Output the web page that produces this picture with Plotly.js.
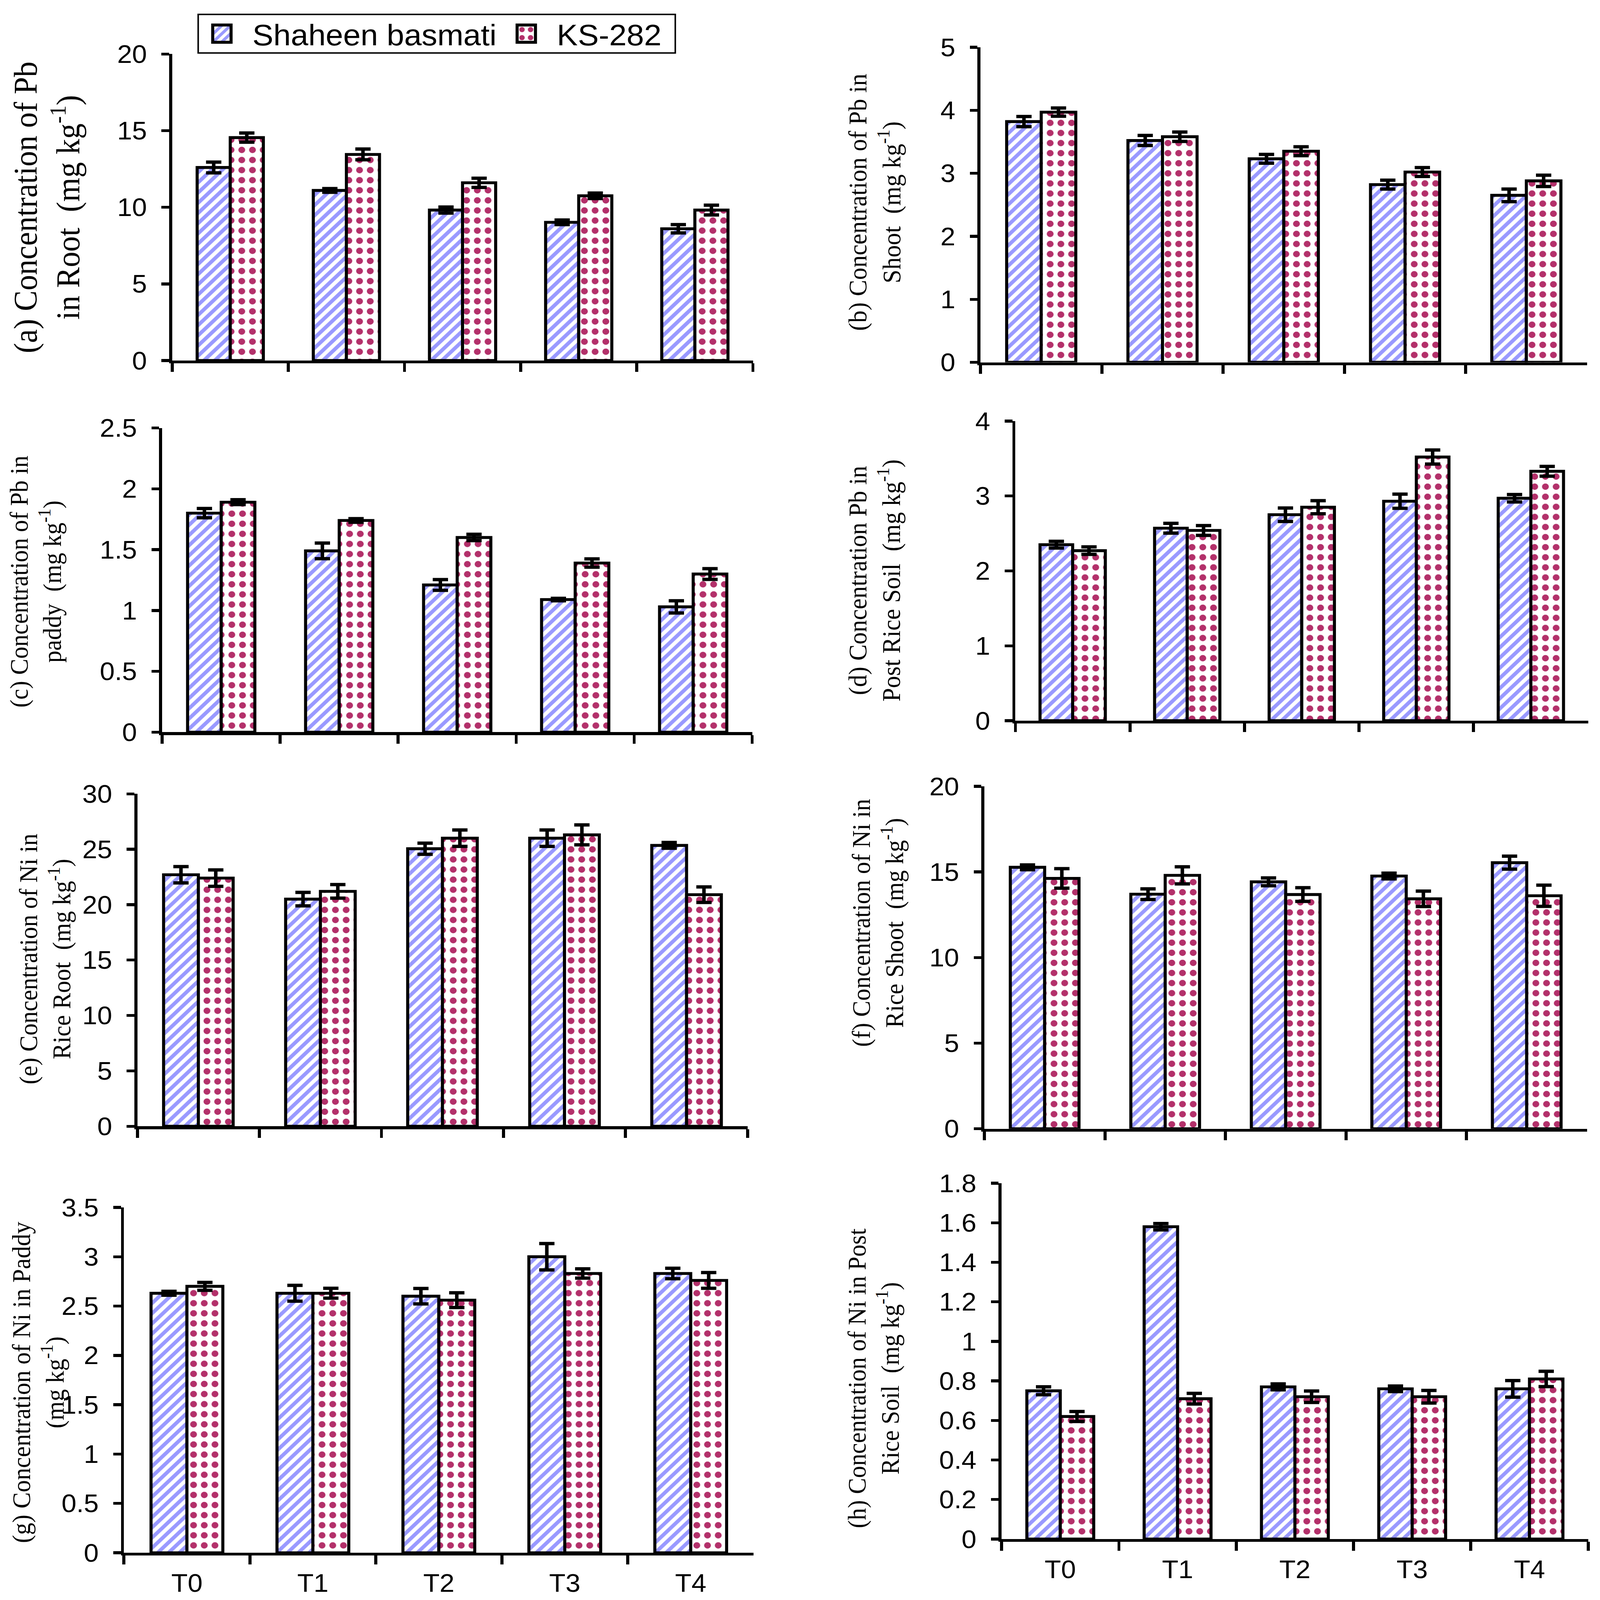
<!DOCTYPE html>
<html>
<head>
<meta charset="utf-8">
<script src="https://cdn.plot.ly/plotly-3.0.1.min.js"></script>
<style>
html,body{margin:0;padding:0;background:#fff;overflow:hidden;width:100%;height:100%;}
#plot{width:1046px;height:1110px;transform-origin:0 0;}
</style>
</head>
<body>
<div id="plot"></div>
<script>
// ---------- DATA ----------
const categories = ["T0", "T1", "T2", "T3", "T4"];
const seriesNames = ["Shaheen basmati", "KS-282"];

// (a) Pb in root
const pbRootShaheen   = [12.6, 11.1, 9.82, 9.02, 8.6];
const pbRootShaheenSE = [0.35, 0.12, 0.2, 0.15, 0.27];
const pbRootKS        = [14.55, 13.45, 11.6, 10.75, 9.82];
const pbRootKSSE      = [0.3, 0.35, 0.3, 0.18, 0.32];
// (b) Pb in shoot
const pbShootShaheen   = [3.82, 3.52, 3.23, 2.82, 2.65];
const pbShootShaheenSE = [0.08, 0.08, 0.07, 0.07, 0.1];
const pbShootKS        = [3.97, 3.58, 3.35, 3.02, 2.88];
const pbShootKSSE      = [0.065, 0.075, 0.07, 0.07, 0.09];
// (c) Pb in paddy
const pbPaddyShaheen   = [1.80, 1.49, 1.21, 1.09, 1.03];
const pbPaddyShaheenSE = [0.038, 0.064, 0.044, 0.01, 0.05];
const pbPaddyKS        = [1.89, 1.74, 1.60, 1.39, 1.30];
const pbPaddyKSSE      = [0.02, 0.015, 0.026, 0.034, 0.044];
// (d) Pb in post rice soil
const pbSoilShaheen   = [2.35, 2.57, 2.75, 2.93, 2.97];
const pbSoilShaheenSE = [0.045, 0.065, 0.09, 0.095, 0.05];
const pbSoilKS        = [2.27, 2.54, 2.85, 3.52, 3.33];
const pbSoilKSSE      = [0.05, 0.065, 0.087, 0.094, 0.065];
// (e) Ni in rice root
const niRootShaheen   = [22.7, 20.5, 25.05, 26.0, 25.35];
const niRootShaheenSE = [0.74, 0.61, 0.5, 0.74, 0.26];
const niRootKS        = [22.4, 21.2, 26.0, 26.3, 20.9];
const niRootKSSE      = [0.74, 0.61, 0.74, 0.9, 0.7];
// (f) Ni in rice shoot
const niShootShaheen   = [15.27, 13.7, 14.42, 14.76, 15.54];
const niShootShaheenSE = [0.14, 0.31, 0.23, 0.17, 0.38];
const niShootKS        = [14.62, 14.8, 13.68, 13.43, 13.61];
const niShootKSSE      = [0.57, 0.5, 0.4, 0.45, 0.62];
// (g) Ni in paddy
const niPaddyShaheen   = [2.63, 2.63, 2.60, 3.00, 2.83];
const niPaddyShaheenSE = [0.02, 0.08, 0.078, 0.134, 0.053];
const niPaddyKS        = [2.70, 2.63, 2.56, 2.83, 2.76];
const niPaddyKSSE      = [0.04, 0.05, 0.075, 0.047, 0.08];
// (h) Ni in post rice soil
const niSoilShaheen   = [0.75, 1.58, 0.77, 0.76, 0.76];
const niSoilShaheenSE = [0.02, 0.016, 0.015, 0.014, 0.042];
const niSoilKS        = [0.62, 0.71, 0.72, 0.72, 0.81];
const niSoilKSSE      = [0.025, 0.027, 0.029, 0.032, 0.039];

// y-axis ranges (max, step)
const yMax  = [20, 5, 2.5, 4, 30, 20, 3.5, 1.8];
const yStep = [5, 1, 0.5, 1, 5, 5, 0.5, 0.2];

// y-axis titles
const yTitles = [
  "(a) Concentration of Pb<br>in Root &nbsp;(mg kg<sup>-1</sup>)",
  "(b) Concentration of Pb in<br>Shoot &nbsp;(mg kg<sup>-1</sup>)",
  "(c) Concentration of Pb in<br>paddy &nbsp;(mg kg<sup>-1</sup>)",
  "(d) Concentration Pb in<br>Post Rice Soil &nbsp;(mg kg<sup>-1</sup>)",
  "(e) Concentration of Ni in<br>Rice Root &nbsp;(mg kg<sup>-1</sup>)",
  "(f) Concentration of Ni in<br>Rice Shoot &nbsp;(mg kg<sup>-1</sup>)",
  "(g) Concentration of Ni in Paddy<br>(mg kg<sup>-1</sup>)",
  "(h) Concentration of Ni in Post<br>Rice Soil &nbsp;(mg kg<sup>-1</sup>)"
];

const panelData = [
  [pbRootShaheen, pbRootShaheenSE, pbRootKS, pbRootKSSE],
  [pbShootShaheen, pbShootShaheenSE, pbShootKS, pbShootKSSE],
  [pbPaddyShaheen, pbPaddyShaheenSE, pbPaddyKS, pbPaddyKSSE],
  [pbSoilShaheen, pbSoilShaheenSE, pbSoilKS, pbSoilKSSE],
  [niRootShaheen, niRootShaheenSE, niRootKS, niRootKSSE],
  [niShootShaheen, niShootShaheenSE, niShootKS, niShootKSSE],
  [niPaddyShaheen, niPaddyShaheenSE, niPaddyKS, niPaddyKSSE],
  [niSoilShaheen, niSoilShaheenSE, niSoilKS, niSoilKSSE]
];

// ---------- LAYOUT (positions in reference pixels) ----------
const W = 1046, H = 1110;           // layout size (CSS scaled to the window)
const PW = 4182, PH = 4438;         // reference picture size
// [left, right, top, bottom] of each plot area
const boxes = [
  [450, 1968, 150, 1000],
  [2563, 4148, 131, 1005],
  [424, 1966, 1187, 2031],
  [2654, 4151, 1168, 1999],
  [359, 1954, 2202, 3124],
  [2573, 4148, 2181, 3131],
  [324, 1970, 3349, 4307],
  [2618, 4151, 3282, 4269]
];
// centers of the y titles
const titlePos = [
  [124, 576], [2285, 560], [96, 1611], [2285, 1612],
  [117, 2659], [2295, 2560], [100, 3836], [2285, 3825]
];
const titleSize = [21.5, 17, 16.75, 16.9, 16.75, 16.75, 16.9, 16.75];

const blue = "#9999FF", red = "#B3306A";
const sansFont = "Liberation Sans, Arial, sans-serif";
const serifFont = "Liberation Serif, Times New Roman, serif";

const sx = (window.innerWidth || PW) / W;
const sy = (window.innerHeight || PH) / H;
document.getElementById("plot").style.transform = "scale(" + sx + "," + sy + ")";

const traces = [];
const layout = {
  width: W, height: H, autosize: false,
  margin: {l: 0, r: 0, t: 0, b: 0, pad: 0},
  paper_bgcolor: "#fff", plot_bgcolor: "rgba(0,0,0,0)",
  barmode: "group", bargap: 0.43, bargroupgap: 0,
  showlegend: true,
  legend: {
    orientation: "h", x: 500 / PW, y: 1 - 94 / PH, xanchor: "left", yanchor: "middle",
    bgcolor: "rgba(0,0,0,0)", borderwidth: 0,
    entrywidth: 154, entrywidthmode: "pixels",
    font: {family: sansFont, size: 20.5, color: "#000"},
    traceorder: "normal"
  },
  shapes: [{
    type: "rect", xref: "paper", yref: "paper", layer: "below",
    x0: 518 / PW, x1: 1765 / PW, y0: 1 - 147 / PH, y1: 1 - 40 / PH,
    line: {color: "#000", width: 1}, fillcolor: "#fff"
  }],
  annotations: [],
  font: {family: sansFont, color: "#000"}
};

boxes.forEach((b, i) => {
  const n = i + 1;
  const xa = "x" + (n === 1 ? "" : n), ya = "y" + (n === 1 ? "" : n);
  const xk = "xaxis" + (n === 1 ? "" : n), yk = "yaxis" + (n === 1 ? "" : n);
  const d = panelData[i];
  const common = {
    x: categories, type: "bar", xaxis: xa, yaxis: ya,
    cliponaxis: false
  };
  traces.push(Object.assign({}, common, {
    name: seriesNames[0], y: d[0], legendgroup: "s", showlegend: i === 0,
    marker: {color: blue, line: {color: "#000", width: 2},
      pattern: {shape: "/", fgcolor: blue, bgcolor: "#fff", size: 5, solidity: 0.5, fillmode: "replace"}},
    error_y: {type: "data", array: d[1], visible: true, color: "#000", thickness: 2.3, width: 5}
  }));
  traces.push(Object.assign({}, common, {
    name: seriesNames[1], y: d[2], legendgroup: "k", showlegend: i === 0,
    marker: {color: red, line: {color: "#000", width: 2},
      pattern: {shape: ".", fgcolor: red, bgcolor: "#fff", size: 7, solidity: 0.32, fillmode: "replace"}},
    error_y: {type: "data", array: d[3], visible: true, color: "#000", thickness: 2.3, width: 5}
  }));
  layout[xk] = {
    domain: [b[0] / PW, b[1] / PW], anchor: ya,
    type: "category", categoryorder: "array", categoryarray: categories,
    range: [-0.5, 4.5], showline: true, linecolor: "#000", linewidth: 2,
    ticks: "outside", tickson: "boundaries", ticklen: 6, tickwidth: 2, tickcolor: "#000",
    showticklabels: i >= 6, tickfont: {family: sansFont, size: 17.5, color: "#000"},
    ticklabelstandoff: 4,
    showgrid: false, zeroline: false, fixedrange: true
  };
  layout[yk] = {
    domain: [1 - b[3] / PH, 1 - b[2] / PH], anchor: xa,
    range: [0, yMax[i]], tick0: 0, dtick: yStep[i],
    showline: true, linecolor: "#000", linewidth: 2,
    ticks: "outside", ticklen: 5, tickwidth: 2, tickcolor: "#000",
    tickfont: {family: sansFont, size: 17.5, color: "#000"},
    ticklabelstandoff: 6,
    showgrid: false, zeroline: false, fixedrange: true
  };
  layout.annotations.push({
    xref: "paper", yref: "paper",
    x: titlePos[i][0] / PW, y: 1 - titlePos[i][1] / PH,
    xanchor: "center", yanchor: "middle", textangle: -90, showarrow: false,
    text: yTitles[i], align: "center",
    font: {family: serifFont, size: titleSize[i], color: "#000"}
  });
});

Plotly.newPlot("plot", traces, layout, {displayModeBar: false, staticPlot: true});
</script>
</body>
</html>
